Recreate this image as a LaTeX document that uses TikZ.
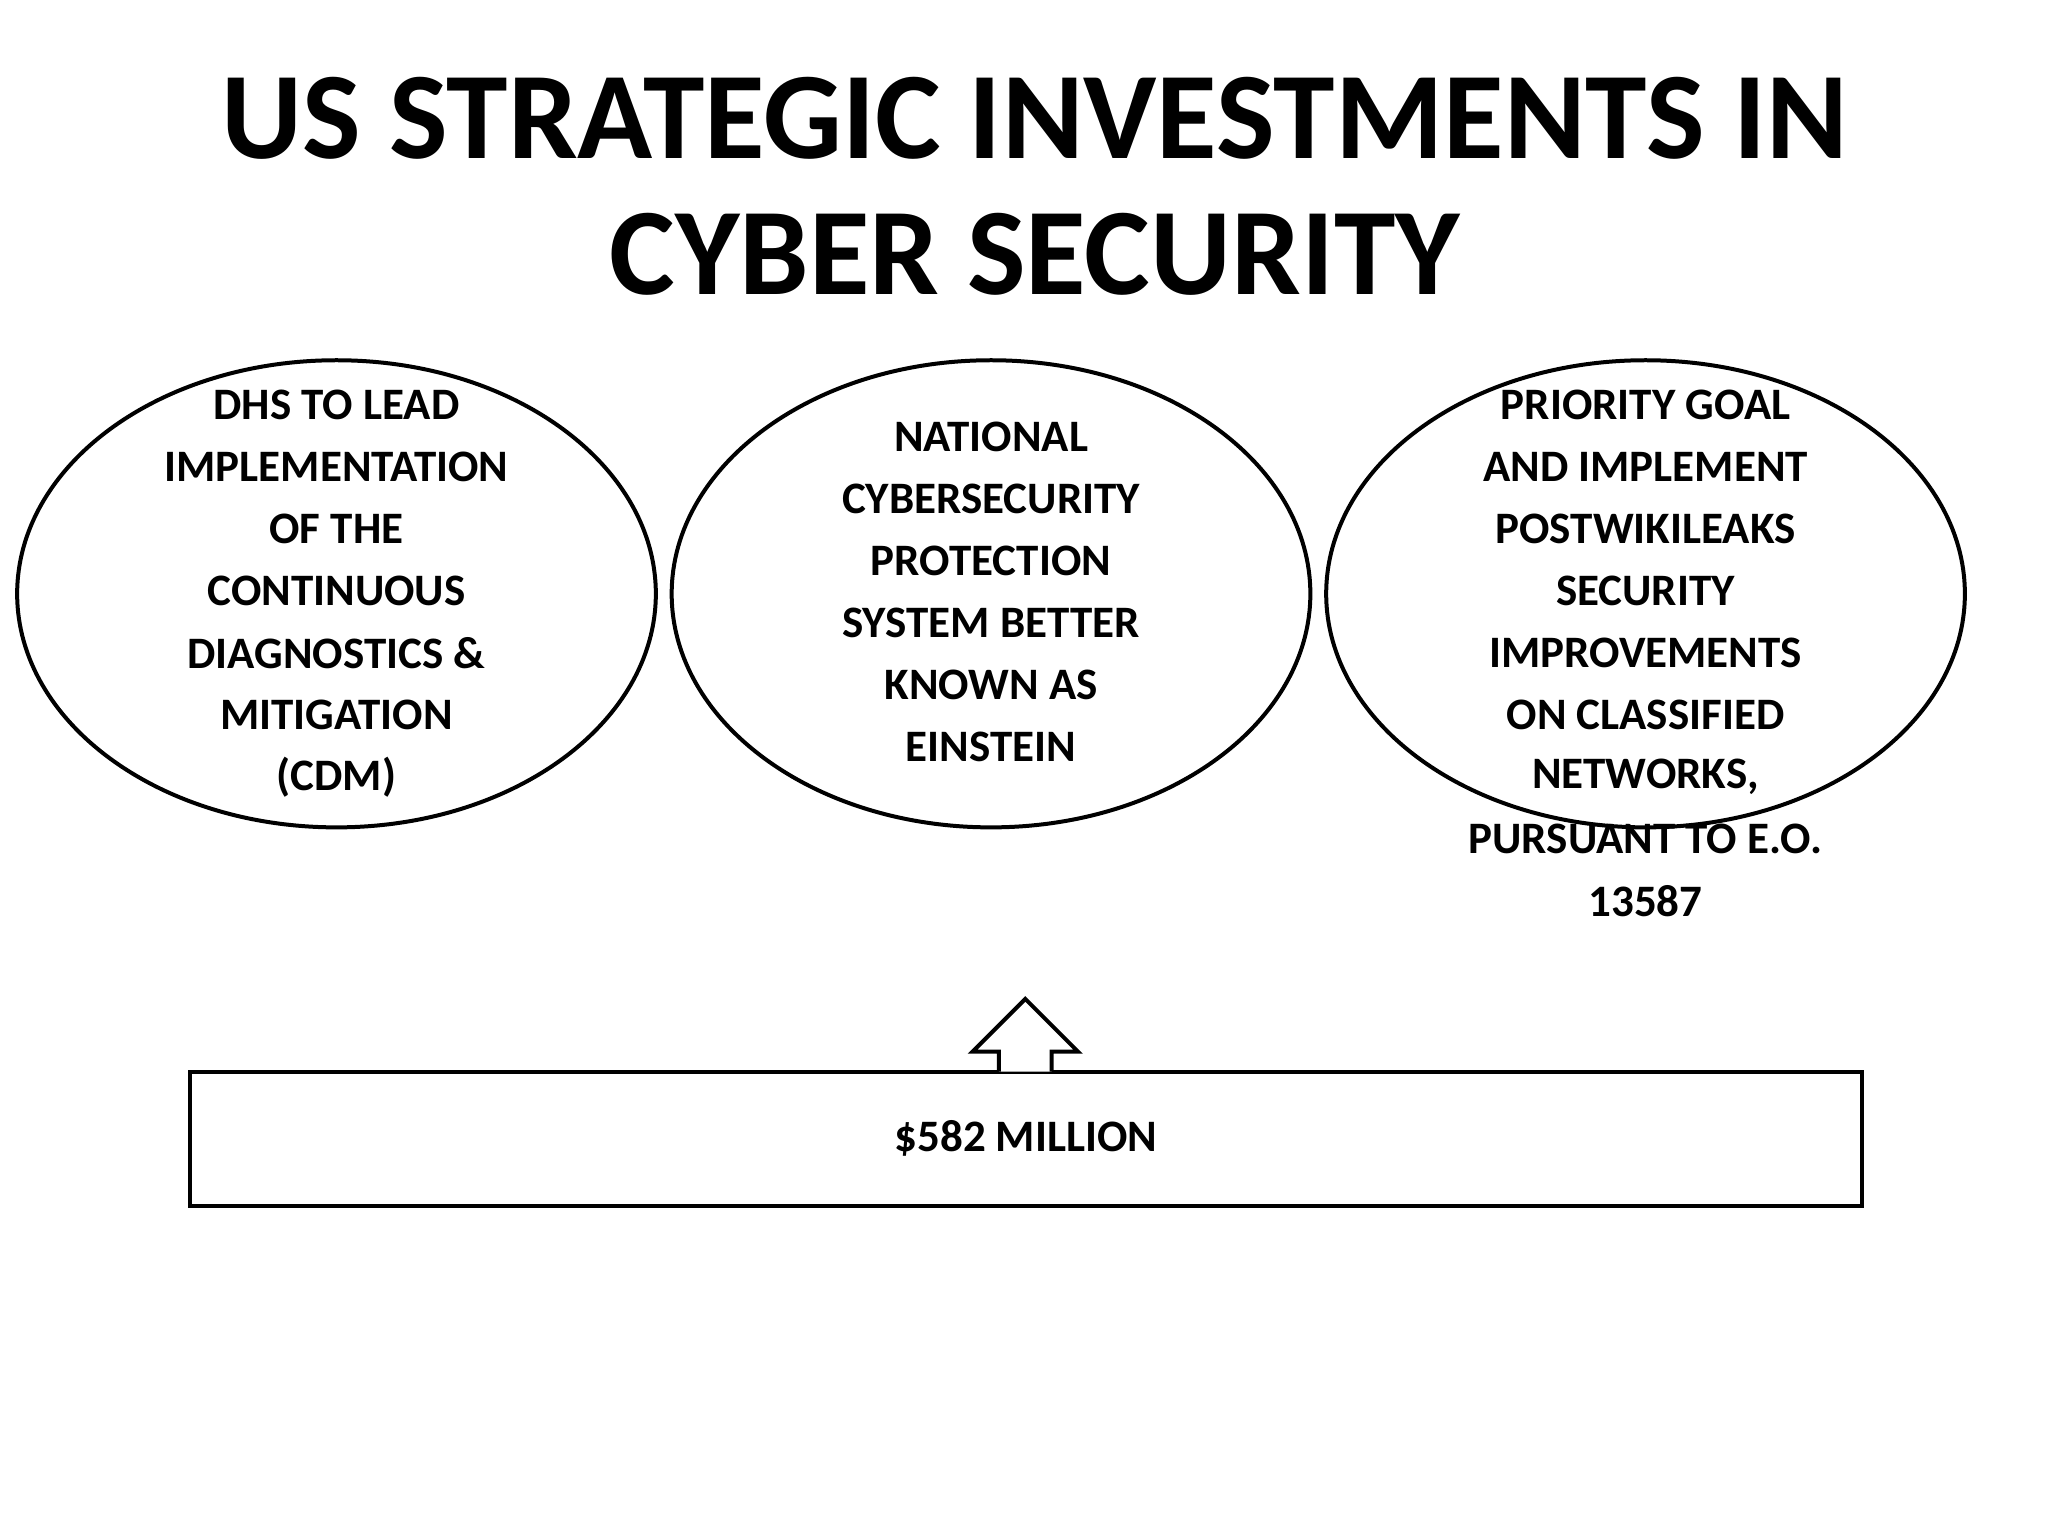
\documentclass[tikz,border=0pt]{standalone}
\usepackage{fontspec}
\setmainfont{Carlito}
\begin{document}
\begin{tikzpicture}[x=0.66pt,y=-0.66pt,
  ell/.style={draw,line width=2pt},
  lbl/.style={font=\bfseries\fontsize{22.5}{31}\selectfont,align=center,anchor=center}]
\useasboundingbox (0,0) rectangle (1552,1164);
\node[font=\bfseries\fontsize{62}{70}\selectfont,align=center] (title) at (784,90) {US STRATEGIC INVESTMENTS IN};
\node[font=\bfseries\fontsize{62}{70}\selectfont,align=center] (title2) at (784,193) {CYBER SECURITY};
\draw[ell] (255,450) ellipse [x radius=242,y radius=177];
\draw[ell] (751,450) ellipse [x radius=242,y radius=177];
\draw[ell] (1247,450) ellipse [x radius=242,y radius=177];
\foreach \t [count=\i] in {DHS TO LEAD,IMPLEMENTATION,OF THE,CONTINUOUS,DIAGNOSTICS \&,MITIGATION,(CDM)}
  \node[lbl] (l\i) at (255,{307+47*(\i-1)}) {\t};
\foreach \t [count=\i] in {NATIONAL,CYBERSECURITY,PROTECTION,SYSTEM BETTER,KNOWN AS,EINSTEIN}
  \node[lbl] (m\i) at (751,{331+47*(\i-1)}) {\t};
\foreach \t [count=\i] in {PRIORITY GOAL,AND IMPLEMENT,POSTWIKILEAKS,SECURITY,IMPROVEMENTS,ON CLASSIFIED,{NETWORKS,},PURSUANT TO E.O.,13587}
  \node[lbl] (r\i) at (1247,{307+47*(\i-1)}) {\t};
\node[draw,line width=2pt,minimum width=1267*0.66pt,minimum height=102*0.66pt,inner sep=0pt] (box) at (777.5,863) {};
\node[lbl] (amt) at (box.center) {\$582 MILLION};
\draw[line width=2pt,line join=miter,fill=white] (757,812) -- (757,797) -- (737,797) -- (777,757) -- (817,797) -- (797,797) -- (797,812);
\end{tikzpicture}
\end{document}
